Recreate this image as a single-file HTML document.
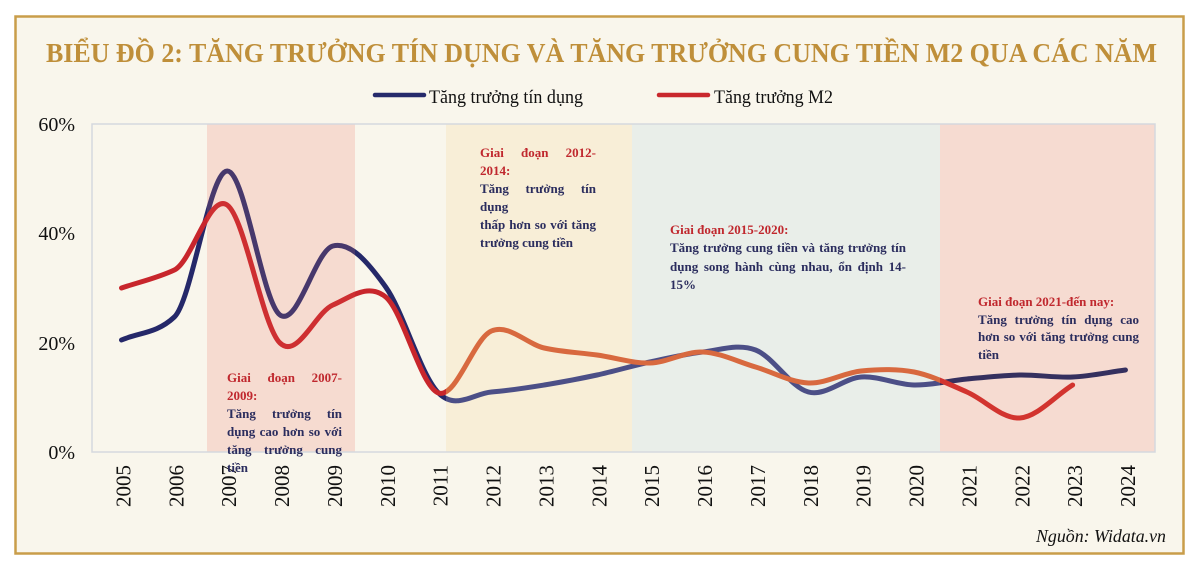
<!DOCTYPE html>
<html>
<head>
<meta charset="utf-8">
<style>
  html,body{margin:0;padding:0;background:#ffffff;}
  #wrap{position:relative;width:1200px;height:572px;overflow:hidden;background:#fff;}
  svg{position:absolute;left:0;top:0;}
  .ann{position:absolute;font-family:"Liberation Serif","Noto Serif CJK SC",serif;font-weight:bold;font-size:13px;line-height:18px;white-space:nowrap;}
  .ann div{height:18px;}
  .j{text-align:justify;text-align-last:justify;}
  .r{color:#c0282e;}
  .n{color:#2b2d5e;}
</style>
</head>
<body>
<div id="wrap">
<svg width="1200" height="572" viewBox="0 0 1200 572" xmlns="http://www.w3.org/2000/svg">
  <defs>
    <clipPath id="cOut"><rect x="0" y="0" width="207" height="572"/><rect x="355" y="0" width="91" height="572"/></clipPath>
    <clipPath id="cP1"><rect x="207" y="0" width="148" height="572"/></clipPath>
    <clipPath id="cB"><rect x="446" y="0" width="494" height="572"/></clipPath>
    <clipPath id="cP2"><rect x="940" y="0" width="260" height="572"/></clipPath>
    <path id="cr" fill="none" stroke-width="5" stroke-linecap="round" stroke-linejoin="round" d="M120,340 C137.61,332.33 155.23,333.67 172.84,317 C190.45,300.33 208.07,171.33 225.68,171 C243.29,170.67 260.91,302.5 278.52,315 C296.13,327.5 313.75,250.67 331.36,246 C348.97,241.33 366.59,262.5 384.2,287 C401.81,311.5 419.43,375.5 437.04,393 C454.65,410.5 472.27,393.33 489.88,392 C507.49,390.67 525.11,387.83 542.72,385 C560.33,382.17 577.95,378.83 595.56,375 C613.17,371.17 630.79,365.83 648.4,362 C666.01,358.17 683.63,354 701.24,352 C718.85,350 736.47,343.33 754.08,350 C771.69,356.67 789.31,387.5 806.92,392 C824.53,396.5 842.15,378.17 859.76,377 C877.37,375.83 894.99,384.67 912.6,385 C930.21,385.33 947.83,380.67 965.44,379 C983.05,377.33 1000.67,375.33 1018.28,375 C1035.89,374.67 1053.51,377.83 1071.12,377 C1088.73,376.17 1106.35,372.33 1123.96,370"/>
    <path id="m2" fill="none" stroke-width="5" stroke-linecap="round" stroke-linejoin="round" d="M120,288 C137.61,282 155.23,278.33 172.84,270 C190.45,261.67 208.07,192.83 225.68,205 C243.29,217.17 260.91,326.33 278.52,343 C296.13,359.67 313.75,312.67 331.36,305 C348.97,297.33 366.59,282.33 384.2,297 C401.81,311.67 419.43,387.33 437.04,393 C454.65,398.67 472.27,338.5 489.88,331 C507.49,323.5 525.11,344 542.72,348 C560.33,352 577.95,352.5 595.56,355 C613.17,357.5 630.79,363.5 648.4,363 C666.01,362.5 683.63,351.33 701.24,352 C718.85,352.67 736.47,361.83 754.08,367 C771.69,372.17 789.31,382.33 806.92,383 C824.53,383.67 842.15,372.83 859.76,371 C877.37,369.17 894.99,368.5 912.6,372 C930.21,375.5 947.83,384.33 965.44,392 C983.05,399.67 1000.67,419.17 1018.28,418 C1035.89,416.83 1053.51,396 1071.12,385"/>
  </defs>

  <!-- frame -->
  <rect x="0" y="0" width="1200" height="572" fill="#ffffff"/>
  <rect x="15.5" y="16.5" width="1168" height="537" fill="#f9f6ec" stroke="#c99d4a" stroke-width="2.5"/>

  <!-- title -->
  <text x="46" y="62" font-family="Liberation Serif, serif" font-weight="bold" font-size="27" fill="#bf8f3a" textLength="1111" lengthAdjust="spacingAndGlyphs">BIỂU ĐỒ 2: TĂNG TRƯỞNG TÍN DỤNG VÀ TĂNG TRƯỞNG CUNG TIỀN M2 QUA CÁC NĂM</text>

  <!-- legend -->
  <line x1="375" y1="95" x2="424" y2="95" stroke="#262a6b" stroke-width="4.5" stroke-linecap="round"/>
  <text x="429" y="103" font-family="Liberation Serif, serif" font-size="19" fill="#111" textLength="154" lengthAdjust="spacingAndGlyphs">Tăng trưởng tín dụng</text>
  <line x1="659" y1="95" x2="708" y2="95" stroke="#c9282d" stroke-width="4.5" stroke-linecap="round"/>
  <text x="714" y="103" font-family="Liberation Serif, serif" font-size="19" fill="#111" textLength="119" lengthAdjust="spacingAndGlyphs">Tăng trưởng M2</text>

  <!-- shading -->
  <rect x="207" y="124" width="148" height="328" fill="#f6dbd0"/>
  <rect x="446" y="124" width="186" height="328" fill="#f8eed7"/>
  <rect x="632" y="124" width="308" height="328" fill="#e9eee9"/>
  <rect x="940" y="124" width="215" height="328" fill="#f6dbd1"/>

  <!-- plot border -->
  <rect x="92" y="124" width="1063" height="328" fill="none" stroke="#d6d8de" stroke-width="1.5"/>

  <!-- series: credit -->
  <g clip-path="url(#cOut)"><g transform="translate(1.5,0)"><use href="#cr" stroke="#252869"/></g></g>
  <g clip-path="url(#cP1)"><g transform="translate(1.5,0)"><use href="#cr" stroke="#47386c"/></g></g>
  <g clip-path="url(#cB)"><g transform="translate(1.5,0)"><use href="#cr" stroke="#4c4f87"/></g></g>
  <g clip-path="url(#cP2)"><g transform="translate(1.5,0)"><use href="#cr" stroke="#35305f"/></g></g>
  <!-- series: M2 -->
  <g clip-path="url(#cOut)"><g transform="translate(1.5,0)"><use href="#m2" stroke="#c8262c"/></g></g>
  <g clip-path="url(#cP1)"><g transform="translate(1.5,0)"><use href="#m2" stroke="#ce2f31"/></g></g>
  <g clip-path="url(#cB)"><g transform="translate(1.5,0)"><use href="#m2" stroke="#d8693f"/></g></g>
  <g clip-path="url(#cP2)"><g transform="translate(1.5,0)"><use href="#m2" stroke="#d2342f"/></g></g>

  <!-- y axis labels -->
  <g font-family="Liberation Serif, serif" font-size="20" fill="#111" text-anchor="end">
    <text x="75" y="131">60%</text>
    <text x="75" y="240">40%</text>
    <text x="75" y="350">20%</text>
    <text x="75" y="459">0%</text>
  </g>

  <!-- x axis labels -->
  <g font-family="Liberation Serif, serif" font-size="21" fill="#111" text-anchor="end">
    <text transform="translate(130.4,465) rotate(-90)">2005</text>
    <text transform="translate(183.3,465) rotate(-90)">2006</text>
    <text transform="translate(236.2,465) rotate(-90)">2007</text>
    <text transform="translate(289.0,465) rotate(-90)">2008</text>
    <text transform="translate(341.9,465) rotate(-90)">2009</text>
    <text transform="translate(394.8,465) rotate(-90)">2010</text>
    <text transform="translate(447.7,465) rotate(-90)">2011</text>
    <text transform="translate(500.5,465) rotate(-90)">2012</text>
    <text transform="translate(553.4,465) rotate(-90)">2013</text>
    <text transform="translate(606.3,465) rotate(-90)">2014</text>
    <text transform="translate(659.2,465) rotate(-90)">2015</text>
    <text transform="translate(712.0,465) rotate(-90)">2016</text>
    <text transform="translate(764.9,465) rotate(-90)">2017</text>
    <text transform="translate(817.8,465) rotate(-90)">2018</text>
    <text transform="translate(870.7,465) rotate(-90)">2019</text>
    <text transform="translate(923.5,465) rotate(-90)">2020</text>
    <text transform="translate(976.4,465) rotate(-90)">2021</text>
    <text transform="translate(1029.3,465) rotate(-90)">2022</text>
    <text transform="translate(1082.2,465) rotate(-90)">2023</text>
    <text transform="translate(1135.0,465) rotate(-90)">2024</text>
  </g>

  <!-- source -->
  <text x="1036" y="542" font-family="Liberation Serif, serif" font-style="italic" font-size="18" fill="#111" textLength="130" lengthAdjust="spacingAndGlyphs">Nguồn: Widata.vn</text>
</svg>

<!-- annotations -->
<div class="ann" style="left:227px;top:368.6px;width:115px;">
  <div class="j r">Giai đoạn 2007-</div>
  <div class="r">2009:</div>
  <div class="j n">Tăng trưởng tín</div>
  <div class="j n">dụng cao hơn so với</div>
  <div class="j n">tăng trưởng cung</div>
  <div class="n">tiền</div>
</div>

<div class="ann" style="left:480px;top:143.6px;width:116px;">
  <div class="j r">Giai đoạn 2012-</div>
  <div class="r">2014:</div>
  <div class="j n">Tăng trưởng tín</div>
  <div class="n">dụng</div>
  <div class="j n">thấp hơn so với tăng</div>
  <div class="n">trưởng cung tiền</div>
</div>

<div class="ann" style="left:670px;top:220.6px;width:236px;">
  <div class="r" style="height:18.5px">Giai đoạn 2015-2020:</div>
  <div class="j n" style="height:18.5px">Tăng trưởng cung tiền và tăng trưởng tín</div>
  <div class="j n">dụng song hành cùng nhau, ổn định 14-</div>
  <div class="n">15%</div>
</div>

<div class="ann" style="left:978px;top:292.6px;width:161px;">
  <div class="r">Giai đoạn 2021-đến nay:</div>
  <div class="j n" style="height:17.5px">Tăng trưởng tín dụng cao</div>
  <div class="j n" style="height:17.5px">hơn so với tăng trưởng cung</div>
  <div class="n">tiền</div>
</div>
</div>
</body>
</html>
